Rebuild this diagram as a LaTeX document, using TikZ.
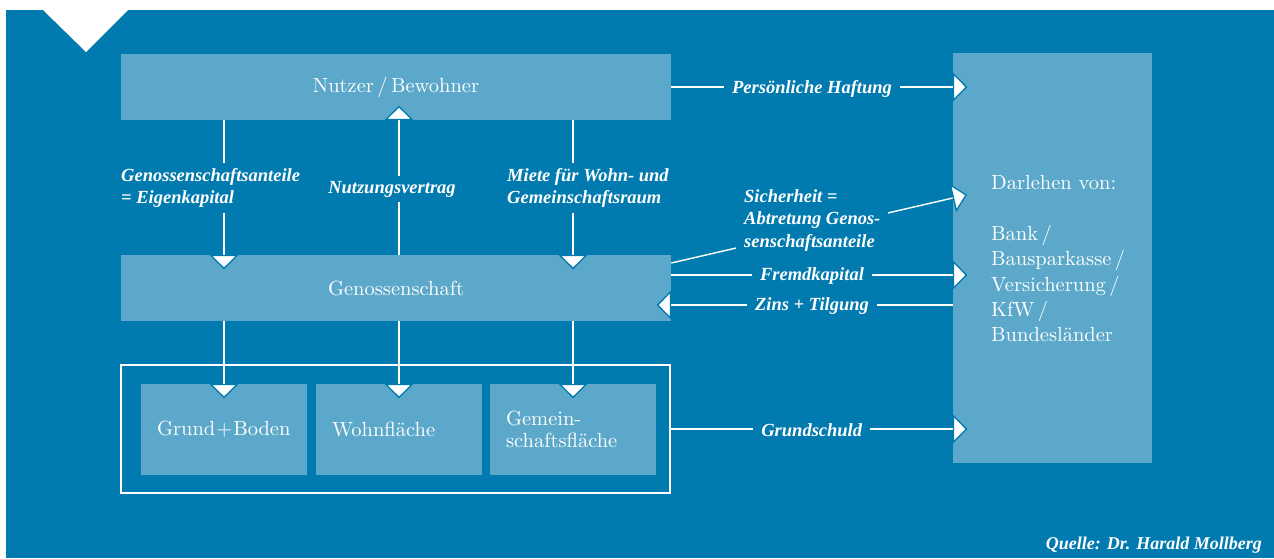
\documentclass[tikz,border=0pt]{standalone}
\usepackage{fontspec}
\newfontfamily\labfont{Liberation Serif}
\newfontfamily\regfont{lmroman10-regular.otf}
\usetikzlibrary{arrows.meta,calc}
\definecolor{bgblue}{RGB}{0,122,175}
\definecolor{boxblue}{RGB}{91,168,202}
\tikzset{
  regtext/.style={font=\regfont\fontsize{20.5}{25.4}\selectfont, text=white},
  bigbox/.style={fill=boxblue, draw=none, regtext, minimum width=550pt, minimum height=66pt, inner sep=0pt},
  smallbox/.style={fill=boxblue, text=white, font=\regfont\fontsize{20.5}{22.6}\selectfont, minimum width=166pt, minimum height=91pt, text width=134pt, inner xsep=16pt, inner ysep=0pt, align=left},
  conn/.style={draw=white, line width=1.4pt, -{Triangle[width=29pt,length=14.5pt,color=bgblue,fill=white,line width=1.3pt]}, shorten >=-14.5pt},
  lab/.style={fill=bgblue, text=white, font=\labfont\bfseries\itshape\fontsize{18.5}{22.5}\selectfont, inner xsep=8pt, inner ysep=5pt},
}
\begin{document}
\begin{tikzpicture}[x=1pt,y=-1pt]
\useasboundingbox (0,0) rectangle (1274,558);
\fill[white] (0,0) rectangle (1274,558);
\fill[bgblue] (6,10) rectangle (1274,558);
\fill[white] (43,10) -- (128,10) -- (86,52) -- cycle;

\node[bigbox] (nutzer) at (396,87) {Nutzer\,/\,Bewohner};
\node[bigbox] (genos) at (396,288) {Genossenschaft};
\node[draw=white, line width=1.4pt, minimum width=549pt, minimum height=128pt, inner sep=0pt] (frame) at (395.5,429) {};
\node[smallbox] (grund) at (224,429.5) {Grund\kern1pt+\kern1pt Boden};
\node[smallbox] (wohn) at (399,429.5) {Wohnfläche};
\node[smallbox] (gemein) at (573,429.5) {Gemein-\\schaftsfläche};
\node[fill=boxblue, minimum width=199pt, minimum height=410pt, inner sep=0pt] (darl) at (1052.5,258) {};
\node[regtext, anchor=north west, align=left, inner sep=0pt] (darltext) at (991,175)
  {Darlehen von:\\[25.4pt]Bank\,/\\Bausparkasse\,/\\Versicherung\,/\\KfW\,/\\Bundesländer};

\draw[conn] (nutzer.south -| grund.center) -- (genos.north -| grund.center);
\draw[conn] (genos.north -| wohn.center) -- (nutzer.south -| wohn.center);
\draw[conn] (nutzer.south -| gemein.center) -- (genos.north -| gemein.center);
\draw[conn] (genos.south -| grund.center) -- (grund.north);
\draw[conn] (genos.south -| wohn.center) -- (wohn.north);
\draw[conn] (genos.south -| gemein.center) -- (gemein.north);

\draw[conn] (nutzer.east) -- node[lab, yshift=-1.5pt] (l1) {Persönliche Haftung} (darl.west |- nutzer.east);
\draw[conn] (genos.east |- 0,263) -- (darl.west |- 0,198);
\draw[conn] (genos.east |- 0,275) -- node[lab, yshift=-1.5pt] (l2) {Fremdkapital} (darl.west |- 0,275);
\draw[conn] (darl.west |- 0,305) -- node[lab, yshift=-1.5pt] (l3) {Zins + Tilgung} (genos.east |- 0,305);
\draw[conn] (frame.east) -- node[lab, yshift=-1.5pt] (l4) {Grundschuld} (darl.west |- frame.east);

\node[lab, anchor=north west, align=left] (l5) at (113,163) {Genossenschaftsanteile\\= Eigenkapital};
\node[lab] (l6) at (392,189) {Nutzungsvertrag};
\node[lab, anchor=north west, align=left] (l7) at (499,163) {Miete für Wohn- und\\Gemeinschaftsraum};
\node[lab, anchor=north west, align=left] (l8) at (736,184) {Sicherheit =\\Abtretung Genos-\\senschaftsanteile};

\node[font=\labfont\bfseries\itshape\fontsize{18}{22}\selectfont, text=white, anchor=base east, inner sep=0pt] (quelle) at (1262,549) {Quelle: Dr. Harald Mollberg};
\end{tikzpicture}
\end{document}
